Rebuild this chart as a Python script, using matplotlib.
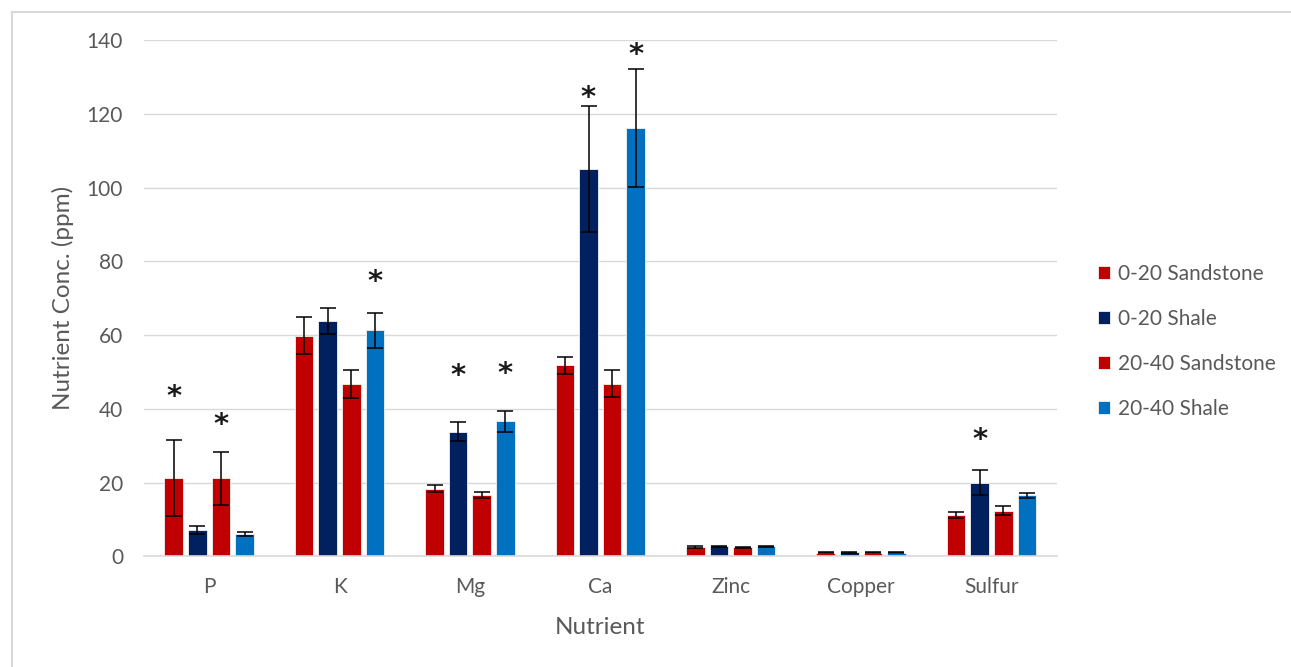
import numpy as np
import matplotlib.pyplot as plt
from matplotlib.lines import Line2D

plt.rcParams['font.family'] = ['Lato', 'DejaVu Sans']

# --- data ---
nutrients = ["P", "K", "Mg", "Ca", "Zinc", "Copper", "Sulfur"]
series_names = ["0-20 Sandstone", "0-20 Shale", "20-40 Sandstone", "20-40 Shale"]

sand_0_20 = [21.2, 59.8, 18.3, 51.8, 2.6, 1.0, 11.3]
shale_0_20 = [7.1, 63.8, 33.8, 105.0, 2.7, 1.1, 20.0]
sand_20_40 = [21.2, 46.7, 16.6, 46.8, 2.4, 1.0, 12.4]
shale_20_40 = [6.1, 61.3, 36.6, 116.2, 2.7, 1.0, 16.5]

err_sand_0_20 = [10.2, 5.0, 1.0, 2.3, 0.3, 0.15, 0.8]
err_shale_0_20 = [1.0, 3.4, 2.5, 17.0, 0.2, 0.1, 3.3]
err_sand_20_40 = [7.2, 3.8, 0.9, 3.7, 0.2, 0.15, 1.2]
err_shale_20_40 = [0.6, 4.7, 2.9, 16.0, 0.2, 0.1, 0.7]

# significance stars: (nutrient index, series index, y value)
star_nutrient = [0, 0, 1, 2, 2, 3, 3, 6]
star_series = [0, 2, 3, 1, 3, 1, 3, 1]
star_y = [43.2, 35.7, 74.4, 48.9, 49.4, 124.3, 136.0, 31.6]

colors = ["#C00000", "#002060", "#C00000", "#0070C0"]
values = [sand_0_20, shale_0_20, sand_20_40, shale_20_40]
errors = [err_sand_0_20, err_shale_0_20, err_sand_20_40, err_shale_20_40]

# --- plot ---
fig = plt.figure(figsize=(12.91, 6.67), dpi=100)
ax = fig.add_axes([0.1115, 0.166, 0.707, 0.774])

x = np.arange(len(nutrients))
step = 0.181
width = 0.142
offsets = (np.arange(4) - 1.5) * step

for i in range(4):
    ax.bar(x + offsets[i], values[i], width, color=colors[i], label=series_names[i],
           edgecolor="#f2f2f2", linewidth=0.6, zorder=2,
           yerr=errors[i], error_kw=dict(ecolor="black", elinewidth=1.1, capsize=5.5, capthick=1.1))

for n, s, yv in zip(star_nutrient, star_series, star_y):
    ax.text(x[n] + offsets[s], yv, "*", ha="center", va="center", fontsize=21,
            fontfamily="DejaVu Sans", fontweight="bold", color="#1a1a1a", zorder=3)

ax.set_xlim(-0.5, len(nutrients) - 0.5)
ax.set_ylim(0, 140)
ax.set_yticks(np.arange(0, 141, 20))
ax.set_xticks(x)
ax.set_xticklabels(nutrients)
ax.grid(axis="y", color="#D9D9D9", linewidth=1, zorder=0)
ax.set_axisbelow(True)
for side in ["top", "right", "left"]:
    ax.spines[side].set_visible(False)
ax.spines["bottom"].set_color("#D9D9D9")
ax.spines["bottom"].set_linewidth(1.2)
ax.tick_params(axis="both", length=0, labelsize=15, colors="#595959")
ax.tick_params(axis="x", pad=15)
ax.tick_params(axis="y", pad=15)

ax.set_xlabel("Nutrient", fontsize=17.5, color="#595959", labelpad=14)
ax.set_ylabel("Nutrient Conc. (ppm)", fontsize=17.5, color="#595959", labelpad=9)

leg = ax.legend(loc="center left", bbox_to_anchor=(1.025, 0.416), frameon=False,
                fontsize=15, labelspacing=1.2, handlelength=0.55, handleheight=0.55,
                handletextpad=0.4, labelcolor="#595959")

# light border of the chart area (top and left visible)
fig.add_artist(Line2D([12 / 1291, 12 / 1291], [0, 1 - 12 / 667], color="#D9D9D9", lw=1.5))
fig.add_artist(Line2D([12 / 1291, 1], [1 - 12 / 667, 1 - 12 / 667], color="#D9D9D9", lw=1.5))

fig.savefig("out.png", dpi=100)
